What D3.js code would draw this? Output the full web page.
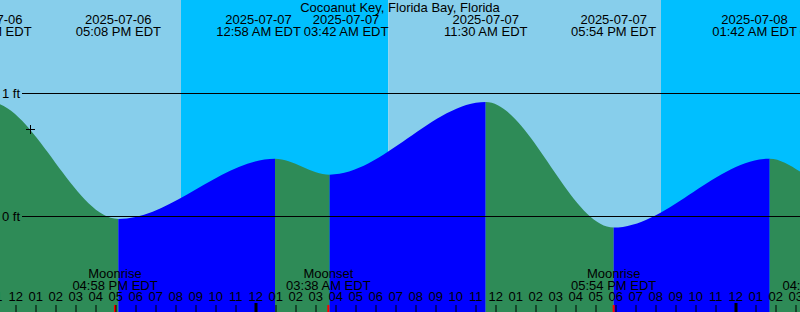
<!DOCTYPE html>
<html>
<head>
<meta charset="utf-8">
<script src="https://cdn.jsdelivr.net/npm/d3@7"></script>
<style>
  body { margin: 0; background: #fff; }
  .tg-chart { display: block; }
  .tg-chart text { font-family: "Liberation Sans", Arial, sans-serif; font-size: 13px; fill: #000; }
</style>
</head>
<body>
<svg class="tg-chart" width="800" height="312"></svg>
<script>
// tide extremes (local EDT), one extra on each side so the edges stay smooth
let tideTimes = ['2025-07-06 03:00', '2025-07-06 10:41', '2025-07-06 17:08', '2025-07-07 00:58', '2025-07-07 03:42',
  '2025-07-07 11:30', '2025-07-07 17:54', '2025-07-08 01:42', '2025-07-08 04:34', '2025-07-08 11:40'];
let tideHeights = [0.40, 0.93, -0.02, 0.47, 0.34, 0.93, -0.09, 0.47, 0.28, 0.90];

let sunTimes = ['2025-07-06 20:16', '2025-07-07 06:38', '2025-07-07 20:16'];
let sunKinds = ['set', 'rise', 'set'];

let moonTimes = ['2025-07-06 16:58', '2025-07-07 03:38', '2025-07-07 17:54', '2025-07-08 04:27'];
let moonLabels = ['Moonrise', 'Moonset', 'Moonrise', 'Moonset'];

let levelTicks = [0, 1];
let markTime = '2025-07-06 12:43';
let markHeight = 0.71;
let stationName = 'Cocoanut Key, Florida Bay, Florida';
let viewStart = '2025-07-06 11:13', viewEnd = '2025-07-08 03:13';

let tideGraph = function () {
  let width = 800, height = 312;
  let colors = {day: '#87ceeb', night: '#00bfff', flood: '#0000ff', ebb: '#2e8b57'};

  let parse = d3.utcParse('%Y-%m-%d %H:%M');
  let fmtDate = d3.utcFormat('%Y-%m-%d');
  let fmtTime = d3.utcFormat('%I:%M %p EDT');
  let fmtHour = d3.utcFormat('%I');

  let t0 = parse(viewStart), t1 = parse(viewEnd);
  let x = d3.scaleUtc().domain([t0, t1]).range([0, width]);
  let y = d3.scaleLinear().domain([0, 1]).range([216.5, 93.5]);

  let svg = d3.select('.tg-chart');

  let tides = tideTimes.map((t, i) => ({t: parse(t), h: tideHeights[i]}));

  // sky: day / night bands
  let edges = [t0].concat(sunTimes.map(parse)).concat([t1]);
  let bands = [];
  for (let i = 0; i < edges.length - 1; i++) {
    // before a sunset it is day, before a sunrise it is night
    let kind = i < sunKinds.length ? (sunKinds[i] === 'set' ? 'day' : 'night')
      : (sunKinds[sunKinds.length - 1] === 'set' ? 'night' : 'day');
    bands.push({a: edges[i], b: edges[i + 1], kind: kind});
  }
  svg.append('g')
    .selectAll('rect')
    .data(bands)
    .enter().append('rect')
    .attr('x', d => x(d.a))
    .attr('width', d => x(d.b) - x(d.a))
    .attr('y', 0)
    .attr('height', height)
    .attr('fill', d => colors[d.kind]);

  // water: area under the tide curve, coloured flood / ebb
  let area = d3.area()
    .x(d => x(d.t))
    .y0(height)
    .y1(d => y(d.h))
    .curve(d3.curveMonotoneX);

  svg.append('clipPath')
    .attr('id', 'tg-water')
    .append('path')
    .attr('d', area(tides));

  let spans = [];
  for (let i = 0; i < tides.length - 1; i++) {
    spans.push({a: tides[i].t, b: tides[i + 1].t, kind: tides[i + 1].h > tides[i].h ? 'flood' : 'ebb'});
  }
  svg.append('g')
    .attr('clip-path', 'url(#tg-water)')
    .selectAll('rect')
    .data(spans)
    .enter().append('rect')
    .attr('x', d => x(d.a))
    .attr('width', d => x(d.b) - x(d.a))
    .attr('y', 0)
    .attr('height', height)
    .attr('fill', d => colors[d.kind]);

  // level lines + labels
  let levels = svg.append('g');
  levels.selectAll('line')
    .data(levelTicks)
    .enter().append('line')
    .attr('x1', 22).attr('x2', width)
    .attr('y1', d => y(d)).attr('y2', d => y(d))
    .attr('stroke', '#000')
    .attr('shape-rendering', 'crispEdges');
  levels.selectAll('text')
    .data(levelTicks)
    .enter().append('text')
    .attr('x', 2)
    .attr('y', d => y(d) + 4.5)
    .text(d => d + ' ft');

  // current-time mark
  let mx = x(parse(markTime)), my = y(markHeight);
  svg.append('path')
    .attr('d', 'M' + (mx - 4) + ',' + my + 'H' + (mx + 5) + 'M' + mx + ',' + (my - 4) + 'V' + (my + 5))
    .attr('stroke', '#000')
    .attr('shape-rendering', 'crispEdges');

  // title
  svg.append('text')
    .attr('x', width / 2)
    .attr('y', 12)
    .attr('text-anchor', 'middle')
    .text(stationName);

  // high / low labels at top, pushed apart when they collide
  let shown = tides.filter(d => x(d.t) > -80 && x(d.t) < width + 80);
  let tl = svg.append('g').selectAll('g')
    .data(shown)
    .enter().append('g');
  tl.append('text').attr('class', 'tg-date').attr('y', 24).attr('text-anchor', 'middle').text(d => fmtDate(d.t));
  tl.append('text').attr('class', 'tg-time').attr('y', 36).attr('text-anchor', 'middle').text(d => fmtTime(d.t));
  let cx = shown.map(d => x(d.t));
  let w = tl.select('.tg-time').nodes().map(n => n.getComputedTextLength() + 3);
  for (let i = 0; i < cx.length - 1; i++) {
    let need = (w[i] + w[i + 1]) / 2;
    if (cx[i + 1] - cx[i] < need) {
      let mid = (cx[i] + cx[i + 1]) / 2;
      cx[i] = mid - need / 2;
      cx[i + 1] = mid + need / 2;
    }
  }
  tl.attr('transform', (d, i) => 'translate(' + cx[i] + ',0)');

  // moon rise / set labels and red marks
  let moons = moonTimes.map((t, i) => ({t: parse(t), label: moonLabels[i]}));
  let ml = svg.append('g').selectAll('g')
    .data(moons)
    .enter().append('g')
    .attr('transform', d => 'translate(' + x(d.t) + ',0)');
  ml.append('text').attr('y', 278).attr('text-anchor', 'middle').text(d => d.label);
  ml.append('text').attr('y', 290).attr('text-anchor', 'middle').text(d => fmtTime(d.t));

  // hour ticks along the bottom
  let hours = d3.utcHour.range(d3.utcHour.floor(t0), d3.utcHour.offset(t1, 1));
  let ticks = svg.append('g');
  ticks.selectAll('text')
    .data(hours)
    .enter().append('text')
    .attr('x', d => x(d))
    .attr('y', 301)
    .attr('text-anchor', 'middle')
    .text(d => fmtHour(d));
  ticks.selectAll('rect')
    .data(hours)
    .enter().append('rect')
    .attr('x', d => d.getUTCHours() === 0 ? Math.round(x(d)) - 1.5 : Math.round(x(d)) - 0.5)
    .attr('width', d => d.getUTCHours() === 0 ? 3 : 1)
    .attr('y', d => d.getUTCHours() === 0 ? 303 : 305)
    .attr('height', d => d.getUTCHours() === 0 ? 9 : 7)
    .attr('fill', '#000');

  ml.append('rect')
    .attr('x', -1)
    .attr('width', 2)
    .attr('y', 305)
    .attr('height', 7)
    .attr('fill', '#ff0000');
};

tideGraph();
</script>
</body>
</html>
